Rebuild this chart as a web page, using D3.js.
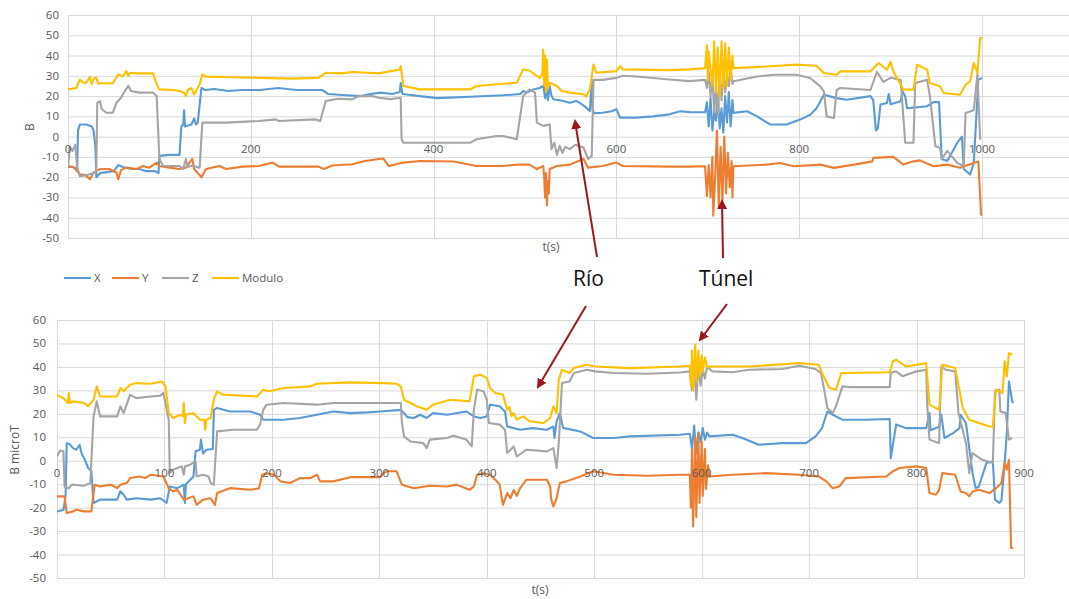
<!DOCTYPE html>
<html>
<head>
<meta charset="utf-8">
<script src="https://cdn.jsdelivr.net/npm/d3@7"></script>
<style>
  body { margin: 0; background: #fff; }
  svg { display: block; font-family: "Open Sans", sans-serif; }
</style>
</head>
<body>
<svg id="chart" width="1069" height="599"></svg>
<script>
// --- data: [t, value] ---
var seriesNames = ["X", "Y", "Z", "Modulo"];
var seriesColors = ["#5B9BD5", "#ED7D31", "#A5A5A5", "#FFC000"];
var yTicks = [60, 50, 40, 30, 20, 10, 0, -10, -20, -30, -40, -50];
var topXTicks = [0, 200, 400, 600, 800, 1000];
var botXTicks = [0, 100, 200, 300, 400, 500, 600, 700, 800, 900];

var topX = [[0,-15],[5,-15],[10,-16],[11,3],[13,6],[20,6],[26,5],[28,3],[30,-5],[31,-20],[35,-18],[50,-17],[55,-14],[60,-15],[70,-16],[78,-16],[85,-17],[95,-17],[99,-18],[100,-9.5],[110,-9],[122,-9],[124,5],[126,6],[127,13],[128,5],[135,6],[138,9],[140,6],[142,7],[146,24],[150,23],[160,23.5],[175,22.5],[190,23],[210,23],[230,24],[250,23],[278,23],[285,21],[300,20.5],[320,20],[331,21],[342,21.7],[355,21],[363,22],[364,26.5],[366,21],[385,20],[404,19],[440,19.7],[476,20.4],[495,21],[498,22.5],[502,21.7],[509,23.3],[516,24],[520,25],[522,19],[523,26],[525,18],[527,25],[529,20],[531,18.4],[542,17.6],[549,16.7],[556,17.6],[562,16],[567,14.3],[570,13],[571,12.6],[573,28],[574,13],[576,11.5],[585,11.8],[595,12.5],[600,13.5],[604,9.4],[622,9.4],[640,10],[658,11],[670,12.5],[680,12.1],[697,12],[699,17],[701,5],[703,19],[705,3],[707,12],[709,8],[711,20],[713,4],[715,14],[717,2],[719,20],[721,7],[723,22],[725,5],[727,18],[728,11.7],[743,12.5],[754,10],[768,6],[786,6],[801,8.4],[812,10.8],[819,14],[827,20.7],[841,19],[852,18.2],[878,20],[881,18],[884,3],[886,4],[889,15.8],[896,16.6],[898,21],[900,16],[911,17.4],[913,22.3],[916,19.9],[918,14],[940,15],[947,17],[953,17],[956,-11],[962,-12],[973,-3],[978,0],[980,-16],[987,-18.7],[991,-13],[996,28],[1000,29]];
var topY = [[0,-14.5],[6,-15],[13,-18.6],[19,-19],[24,-21],[28,-17.7],[35,-16],[45,-16],[53,-17.7],[55,-21],[58,-16.5],[64,-15.3],[75,-16],[82,-14.5],[89,-15.3],[97,-12.8],[100,-14.5],[111,-15.3],[122,-16],[129,-15.3],[136,-11],[138,-16],[146,-20],[151,-16],[166,-14.5],[173,-16],[191,-14.8],[209,-14.5],[224,-12.8],[231,-14.8],[274,-14.8],[280,-16],[289,-14.2],[311,-13.6],[325,-12],[340,-11],[345,-10.8],[351,-14.5],[367,-12.8],[385,-12],[422,-12.3],[447,-14.5],[476,-14.5],[491,-13.8],[505,-13.8],[513,-16],[520,-14.5],[521,-20],[522,-30],[523,-18],[524,-34],[525,-22],[526,-28],[527,-16],[535,-14.5],[549,-13.8],[564,-11],[569,-15.3],[585,-14.5],[600,-12.8],[607,-14.5],[658,-14.8],[680,-14.8],[697,-14.6],[699,-29.4],[701,-14],[703,-30],[705,-10],[706,-39],[708,-20],[710,3],[712,-35],[714,-5],[716,-32],[718,0],[720,-28],[722,-8],[724,-25],[726,-12],[727,-30],[728,-14.6],[764,-13.8],[779,-13],[794,-14.6],[823,-13.8],[838,-15.4],[860,-13.8],[880,-12.2],[881,-10.5],[903,-10],[914,-13.8],[925,-12.2],[932,-11.7],[947,-14.6],[962,-13.8],[976,-15.4],[991,-13],[996,-12.2],[999,-38.4],[1000,-39]];
var topZ = [[0,-15],[2,-5],[5,-7],[8,-4],[10,-15],[13,-19.5],[20,-19],[28,-18],[31,-17],[32,16.7],[35,17.5],[37,13.5],[42,11.8],[49,11.8],[53,16.7],[58,19.2],[62,22.5],[66,25],[69,22.5],[78,21.7],[93,21.7],[97,20],[100,-11],[104,-14.5],[122,-14.5],[126,-16],[129,-11],[131,-15],[136,-14.2],[144,-15.3],[147,6.9],[173,6.9],[209,7.7],[227,8.5],[231,7.7],[271,8.5],[276,7.7],[282,17.6],[296,18.7],[311,18.4],[318,20],[333,20],[340,19.2],[353,18.5],[364,19.2],[365,-1.3],[367,-3],[404,-3],[440,-3],[447,-1.3],[469,0.3],[476,0.3],[491,-1.3],[498,20],[505,23.3],[511,21.7],[513,6.9],[520,5.3],[527,6],[529,-6.2],[532,-3],[535,-9],[538,-4.5],[541,-8],[544,-5],[549,-6.2],[555,-4],[564,-5.4],[569,-11],[573,-9.5],[575,28],[585,28],[600,29],[607,30],[622,29.7],[658,28.2],[680,27.4],[697,28],[699,24],[701,32],[703,20],[705,30],[707,12],[709,25],[711,10],[713,30],[715,18],[717,32],[719,22],[721,30],[723,25],[725,33],[727,26],[728,27.3],[754,29.7],[772,30.5],[797,30.5],[812,28.9],[823,24.8],[827,22.3],[830,10],[838,9.2],[841,23],[845,24],[878,23],[885,32],[892,27],[900,29],[911,28],[916,-3],[925,-3],[927,26.5],[940,28],[943,20],[949,-4.8],[954,-5.5],[956,-11],[962,-7],[973,-13],[980,-14.6],[982,11.7],[991,13],[995,31],[998,-1.5]];
var topMod = [[0,23.3],[9,24],[13,28.2],[17,26.5],[20,26.6],[24,29.5],[26,26],[28,28.5],[31,29],[33,26],[35,26.3],[49,26.3],[55,30.7],[60,29.8],[64,32.3],[66,30],[68,31.5],[75,31.2],[93,31.2],[97,25.8],[100,23.3],[115,23],[122,22.5],[127,21.7],[129,20],[131,23],[135,24],[138,20.8],[144,25.8],[147,30.7],[151,29.6],[209,29],[245,28.6],[274,29],[282,31.5],[300,31.2],[311,31.9],[340,31.2],[353,32.3],[363,33],[364,34.8],[367,25],[385,23.3],[440,23.3],[447,25],[491,26.6],[498,33.2],[505,32.5],[516,29],[519,31],[520,43],[521,25],[522,40],[523,22],[524,38],[525,24],[527,26.6],[535,25],[540,22.5],[549,21.7],[564,20.9],[567,19.7],[571,23.5],[575,35.6],[578,31.5],[600,32.3],[604,34.8],[607,33.2],[658,32.8],[680,33.2],[697,33.8],[699,45],[700,28],[701,42],[703,33],[705,25],[707,47],[709,22],[711,44],[713,20],[715,47],[717,24],[719,46],[721,25],[723,44],[725,28],[727,40],[728,33.8],[764,34.6],[797,35.5],[819,35],[827,31.4],[841,30.5],[845,32.2],[878,32.2],[887,36.3],[896,33],[900,37],[903,32.2],[914,23.2],[925,23.2],[929,35.5],[940,33],[943,26.4],[954,24.8],[958,21.5],[976,20.7],[982,25.6],[987,27.3],[991,36.3],[995,31.4],[998,48.6],[1000,48.6]];

var botX = [[0,-21.6],[6,-21],[8,-15],[9,7.5],[12,7],[15,5.4],[18,4.7],[21,6.8],[23,3],[26,0.4],[29,-3.1],[32,-4.5],[34,-18],[40,-16.6],[56,-16.6],[59,-13],[62,-14.5],[65,-16.6],[74,-16],[87,-16.6],[96,-16],[102,-18],[105,-11],[112,-11.7],[118,-10.2],[119,-18],[120,-10],[127,-6.7],[129,4],[133,4.7],[134,9],[136,3],[139,4.7],[145,5],[146,21.7],[149,22.5],[161,21],[180,21],[189,19.6],[192,17.5],[211,17.5],[226,18.2],[242,19.6],[257,21],[273,20.3],[289,20.6],[301,21],[320,21.7],[323,20.3],[326,18.6],[332,18.2],[338,19.6],[344,18.2],[350,20.3],[363,19.6],[381,21],[388,18.9],[394,18.2],[400,18.9],[403,23.9],[412,23.2],[417,21],[419,14.6],[431,13.2],[443,13.9],[456,13.2],[462,14.6],[463,9.7],[465,16.8],[468,20.3],[471,14],[487,12.5],[499,9.7],[518,9.7],[533,10.4],[580,11.1],[589,11.5],[591,5],[593,15],[595,3],[597,12],[599,8],[601,14],[603,9],[605,12],[607,10.4],[629,11.1],[638,9.7],[653,6.8],[675,7.5],[697,7.5],[706,10.4],[712,13.9],[717,21],[722,19.6],[731,17.5],[753,17.5],[775,17.8],[776,1.1],[781,15.4],[790,13.9],[809,13.9],[812,20.3],[813,13],[821,14.5],[823,19.6],[826,9.7],[834,11.8],[840,13.9],[841,19.6],[846,16],[852,-5],[855,-11.7],[858,-11],[865,-1],[871,-0.3],[873,-16.6],[877,-18],[879,-17],[882,-1],[884,11.8],[886,33.8],[889,25.3],[890,24.6]];
var botY = [[0,-15.2],[7,-15.2],[9,-22.3],[15,-21.6],[18,-20.9],[25,-21.6],[32,-21.6],[35,-10.2],[40,-11],[50,-10.2],[56,-11.7],[59,-10.2],[65,-9.5],[68,-7.4],[77,-6.7],[82,-7.4],[87,-6],[99,-6.7],[104,-11.7],[108,-13.1],[112,-12.4],[118,-16.6],[127,-15.2],[130,-18.8],[136,-16.6],[143,-16],[147,-18.8],[149,-13.8],[161,-11.7],[180,-12.4],[188,-11.7],[191,-6],[195,-5.3],[202,-6],[208,-8.8],[217,-9.5],[226,-7.4],[236,-7.4],[242,-6],[245,-8.8],[257,-8.8],[273,-7],[301,-7],[304,-5.3],[307,-4.5],[316,-4.5],[321,-10.2],[332,-11.7],[347,-10.7],[363,-11],[372,-10.2],[384,-12.4],[388,-11],[391,-6],[397,-5.3],[403,-6],[408,-8.1],[412,-10.2],[415,-18.8],[419,-13.8],[422,-16],[425,-12.5],[428,-15],[431,-11.7],[437,-8.1],[456,-8.1],[459,-11],[460,-16.6],[462,-19.5],[465,-16],[468,-9.5],[474,-8.8],[487,-6.7],[499,-4.5],[518,-6],[549,-6.4],[580,-6],[589,-6],[590,-20],[591,5],[592,-28],[594,10],[595,-24],[597,12],[598,-18],[600,8],[601,-15],[603,5],[604,-12],[606,-2],[607,-6.7],[629,-6],[660,-5.3],[691,-6],[709,-6.7],[716,-8.8],[722,-11.7],[728,-11],[734,-7.4],[772,-6.7],[778,-4.5],[784,-3.1],[800,-2.4],[809,-3.1],[812,-13.8],[818,-14.5],[821,-12.4],[824,-5.3],[836,-6],[841,-13.1],[846,-13.8],[849,-15.2],[852,-13.1],[858,-12.4],[868,-13.8],[874,-11.7],[879,-9.5],[882,-1],[884,-3.8],[886,0.4],[888,-37.2],[890,-37.2]];
var botZ = [[0,1.8],[3,4.4],[6,4],[7,-11],[11,-11.7],[14,-10.2],[25,-10.7],[31,-9.5],[34,18.9],[37,25.3],[40,18.9],[56,18.9],[59,23.2],[62,20.3],[68,28.1],[74,26.7],[87,27.4],[96,27.7],[99,28.9],[104,17.5],[105,-5.3],[108,-3.8],[112,-3.1],[116,-2.4],[118,-6],[119,-2.5],[124,-1.7],[129,-0.3],[130,-6.7],[136,-6],[141,-6.7],[143,-9.5],[146,-10.2],[149,12.5],[164,13.2],[186,13.2],[189,15.4],[192,21.7],[195,23.9],[211,24.6],[242,23.9],[257,24.6],[304,24.6],[320,24.6],[321,16.1],[323,10.4],[329,8.2],[341,7.5],[344,5.4],[347,9],[363,9.7],[369,10.7],[381,9],[386,6.1],[388,21.7],[391,30.3],[397,29.6],[400,26],[402,16.1],[412,15.4],[417,13.2],[419,3.3],[425,6.1],[428,1.8],[437,4.7],[456,4],[462,5.4],[465,-3.1],[467,7.5],[470,33.1],[477,33.8],[481,37.4],[493,38.8],[501,38.1],[518,37.4],[549,37.1],[580,37.6],[589,38.1],[591,30],[593,40],[595,26],[597,41],[599,32],[601,39],[603,35],[605,40],[610,38.1],[629,37.7],[644,38.8],[675,39.1],[691,40.5],[706,39.1],[711,37.4],[714,30.3],[717,22.5],[722,20.3],[725,23.2],[731,31.7],[737,31.4],[775,31.4],[776,37.4],[781,38.1],[787,36],[800,38.1],[809,38.8],[810,23.2],[812,9],[821,7.5],[823,40.2],[827,38.8],[836,38.1],[839,20.3],[846,7.5],[849,-5.3],[852,3.3],[861,0.4],[871,-1],[873,29.6],[877,30.3],[878,21],[883,20.3],[886,9],[889,9.7]];
var botMod = [[0,28.1],[6,26.7],[10,24.6],[11,28.9],[12,24.6],[15,25.3],[25,24.6],[29,23.2],[34,26],[37,31.7],[40,27.4],[56,27.4],[59,31],[62,29.6],[68,32.4],[74,33.1],[87,32.8],[98,33.8],[101,31.7],[104,20.3],[108,18.2],[115,19.6],[117,19],[118,24.6],[119,16],[120,19.6],[127,20.3],[133,17.5],[137,17.5],[138,13.2],[139,17.5],[143,18.2],[146,26],[149,29.6],[155,28.1],[186,27.4],[192,30.3],[198,29.6],[211,31],[236,31.7],[242,32.8],[273,33.4],[304,33.1],[316,32.8],[320,31.7],[323,26],[329,24.6],[335,23.2],[344,21.7],[350,23.9],[366,26],[384,25.3],[388,36],[394,36.7],[400,35.3],[403,31],[408,28.9],[415,28.2],[419,21.7],[421,23],[423,19],[425,20.3],[428,17.5],[434,18.9],[440,16.8],[453,16.1],[459,18.2],[462,23.2],[465,20.3],[467,34.5],[470,38.8],[477,37.4],[481,39.5],[493,40.9],[501,40.2],[533,39.5],[580,40.2],[589,40.5],[590,32],[591,47],[592,30],[594,49.5],[595,34],[597,47],[598,36],[600,45],[601,38],[603,44],[605,40],[610,40.2],[644,40.2],[691,41.6],[709,40.9],[712,37.4],[719,31],[725,30.3],[730,37.4],[734,37.4],[775,37.7],[778,42.4],[781,43.1],[790,40.2],[800,40.9],[809,41.6],[812,23.9],[821,21.7],[824,40.9],[836,39.5],[843,22.5],[849,17.5],[868,14.6],[871,14.6],[874,30.3],[880,28.9],[882,42.4],[884,36],[886,45.9],[889,45.2]];

var svg = d3.select("#chart");
var gridColor = "#D9D9D9";
var textColor = "#595959";

function drawChart(opts) {
    var x = d3.scaleLinear().domain(opts.xDomain).range([opts.left, opts.right]);
    var y = d3.scaleLinear().domain([-50, 60]).range([opts.bottom, opts.top]);
    var g = svg.append("g");

    var clipId = "clip" + opts.id;
    svg.append("clipPath").attr("id", clipId)
        .append("rect")
        .attr("x", opts.left).attr("y", opts.top - 30)
        .attr("width", Math.min(opts.right, 1069) - opts.left + 2)
        .attr("height", opts.bottom - opts.top + 60);

    // horizontal gridlines
    g.selectAll(".hg").data(yTicks).enter().append("line")
        .attr("x1", opts.left).attr("x2", opts.gridRight)
        .attr("y1", function(d) { return y(d) + 0.5; })
        .attr("y2", function(d) { return y(d) + 0.5; })
        .attr("stroke", gridColor).attr("stroke-width", 1);

    // vertical gridlines
    g.selectAll(".vg").data(opts.xTicks).enter().append("line")
        .attr("x1", function(d) { return Math.round(x(d)) + 0.5; })
        .attr("x2", function(d) { return Math.round(x(d)) + 0.5; })
        .attr("y1", opts.top).attr("y2", opts.bottom)
        .attr("stroke", gridColor).attr("stroke-width", 1);

    // y tick labels
    g.selectAll(".yl").data(yTicks).enter().append("text")
        .attr("x", opts.left - opts.yLabelGap)
        .attr("y", function(d) { return y(d); })
        .attr("dy", "0.35em")
        .attr("text-anchor", "end")
        .attr("font-size", 11.5)
        .attr("fill", textColor)
        .text(function(d) { return d; });

    // series lines
    var line = d3.line()
        .x(function(d) { return x(d[0]); })
        .y(function(d) { return y(d[1]); });
    opts.series.forEach(function(s, i) {
        g.append("path")
            .datum(s)
            .attr("d", line)
            .attr("fill", "none")
            .attr("stroke", seriesColors[i])
            .attr("stroke-width", 2.1)
            .attr("stroke-linejoin", "round")
            .attr("clip-path", "url(#" + clipId + ")");
    });

    // x tick labels sit at the zero line, drawn over the data
    g.selectAll(".xl").data(opts.xTicks).enter().append("text")
        .attr("x", function(d) { return x(d); })
        .attr("y", y(0) + 16)
        .attr("dy", "0.0em")
        .attr("text-anchor", "middle")
        .attr("font-size", 11.5)
        .attr("fill", textColor)
        .text(function(d) { return d; });

    // axis titles
    g.append("text")
        .attr("transform", "translate(" + opts.yTitleX + "," + opts.yTitleY + ") rotate(-90)")
        .attr("text-anchor", "middle")
        .attr("font-size", 12)
        .attr("fill", textColor)
        .text(opts.yTitle);
    g.append("text")
        .attr("x", opts.xTitleX).attr("y", opts.xTitleY)
        .attr("text-anchor", "middle")
        .attr("font-size", 12)
        .attr("fill", textColor)
        .text("t(s)");
}

// top chart: axis runs past the right edge of the picture
drawChart({
    id: "top", xDomain: [0, 1000], xTicks: topXTicks,
    left: 68, right: 982, gridRight: 1069, top: 15, bottom: 238,
    yLabelGap: 9, series: [topX, topY, topZ, topMod],
    yTitle: "B", yTitleX: 34, yTitleY: 127, xTitleX: 551, xTitleY: 251
});

// bottom chart
drawChart({
    id: "bot", xDomain: [0, 900], xTicks: botXTicks,
    left: 57, right: 1024, gridRight: 1024, top: 320, bottom: 578,
    yLabelGap: 11, series: [botX, botY, botZ, botMod],
    yTitle: "B microT", yTitleX: 19, yTitleY: 450, xTitleX: 540, xTitleY: 594
});

// legend
var legend = svg.append("g").attr("transform", "translate(64,278)");
var legendX = [0, 48, 98, 148];
seriesNames.forEach(function(name, i) {
    legend.append("line")
        .attr("x1", legendX[i]).attr("x2", legendX[i] + 27)
        .attr("y1", 0).attr("y2", 0)
        .attr("stroke", seriesColors[i]).attr("stroke-width", 2.1);
    legend.append("text")
        .attr("x", legendX[i] + 30).attr("y", 0).attr("dy", "0.35em")
        .attr("font-size", 11.5).attr("fill", textColor)
        .text(name);
});

// annotations
var arrowColor = "#A0161C";
svg.append("defs").append("marker")
    .attr("id", "head").attr("viewBox", "0 0 10 10")
    .attr("refX", 8).attr("refY", 5)
    .attr("markerWidth", 5).attr("markerHeight", 5)
    .attr("orient", "auto")
    .append("path").attr("d", "M0,0L10,5L0,10z").attr("fill", arrowColor);

var arrows = [
    { from: [597, 257], to: [575, 121] },
    { from: [723, 258], to: [722, 201] },
    { from: [586, 306], to: [538, 387] },
    { from: [727, 304], to: [700, 340] }
];
svg.selectAll(".arrow").data(arrows).enter().append("line")
    .attr("x1", function(d) { return d.from[0]; })
    .attr("y1", function(d) { return d.from[1]; })
    .attr("x2", function(d) { return d.to[0]; })
    .attr("y2", function(d) { return d.to[1]; })
    .attr("stroke", arrowColor).attr("stroke-width", 2)
    .attr("marker-end", "url(#head)");

svg.append("text").attr("x", 573).attr("y", 286)
    .attr("font-size", 21).attr("fill", "#111").text("Río");
svg.append("text").attr("x", 699).attr("y", 286)
    .attr("font-size", 21).attr("fill", "#111").text("Túnel");
</script>
</body>
</html>
